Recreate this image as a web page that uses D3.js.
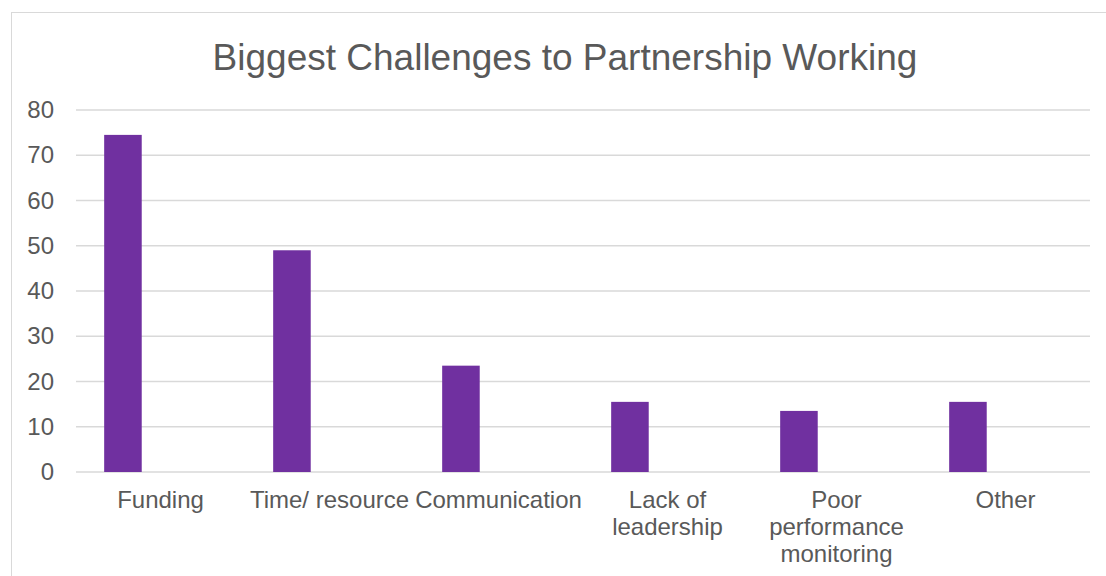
<!DOCTYPE html>
<html>
<head>
<meta charset="utf-8">
<script src="https://cdn.jsdelivr.net/npm/d3@7"></script>
<style>
  body { margin: 0; background: #fff; }
  svg { display: block; font-family: "Liberation Sans", Arial, sans-serif; }
</style>
</head>
<body>
<svg></svg>
<script>
var width = 1106, height = 576;

// chart data
var categories = ['Funding', 'Time/ resource', 'Communication', 'Lack of leadership', 'Poor performance monitoring', 'Other'];
var labelLines = [['Funding'], ['Time/ resource'], ['Communication'], ['Lack of', 'leadership'], ['Poor', 'performance', 'monitoring'], ['Other']];
var values = [74.5, 49, 23.5, 15.5, 13.5, 15.5];
var yTicks = [0, 10, 20, 30, 40, 50, 60, 70, 80];
var title = 'Biggest Challenges to Partnership Working';

var margin = {top: 110, right: 16, bottom: 104, left: 76};
var plotW = width - margin.left - margin.right;
var plotH = height - margin.top - margin.bottom;

var svg = d3.select('svg').attr('width', width).attr('height', height);

// chart frame (runs off the right edge like the original)
svg.append('rect')
  .attr('x', 11.5).attr('y', 12.5)
  .attr('width', 1120).attr('height', 600)
  .attr('fill', 'none').attr('stroke', '#d9d9d9');

svg.append('text')
  .attr('x', 565).attr('y', 70)
  .attr('text-anchor', 'middle')
  .attr('font-size', 37)
  .attr('fill', '#595959')
  .text(title);

var g = svg.append('g').attr('transform', 'translate(' + margin.left + ',' + margin.top + ')');

var x = d3.scaleBand().domain(categories).range([0, plotW]).padding(0);
// excel-style cluster slots, only the first one holds a bar
var slot = d3.scaleBand().domain([0, 1, 2]).range([0, x.bandwidth()]).paddingInner(0).paddingOuter(0.75);
var y = d3.scaleLinear().domain([0, 80]).range([plotH, 0]);

g.selectAll('line.grid')
  .data(yTicks)
  .enter().append('line')
  .attr('class', 'grid')
  .attr('x1', 0).attr('x2', plotW)
  .attr('y1', function(d) { return y(d); })
  .attr('y2', function(d) { return y(d); })
  .attr('stroke', '#d9d9d9')
  .attr('stroke-width', 1.3);

var yAxis = g.append('g')
  .call(d3.axisLeft(y).tickValues(yTicks).tickSize(0).tickPadding(22));
yAxis.select('.domain').remove();
yAxis.selectAll('text')
  .attr('font-size', 24)
  .attr('fill', '#595959')
  .attr('font-family', '"Liberation Sans", Arial, sans-serif');

g.selectAll('rect.bar')
  .data(values)
  .enter().append('rect')
  .attr('class', 'bar')
  .attr('x', function(d, i) { return x(categories[i]) + slot(0); })
  .attr('width', slot.bandwidth())
  .attr('y', function(d) { return y(d); })
  .attr('height', function(d) { return plotH - y(d); })
  .attr('fill', '#7030a0');

var labels = g.selectAll('text.cat')
  .data(labelLines)
  .enter().append('text')
  .attr('class', 'cat')
  .attr('text-anchor', 'middle')
  .attr('font-size', 24)
  .attr('fill', '#595959');

labels.each(function(lines, i) {
  var t = d3.select(this);
  lines.forEach(function(line, j) {
    t.append('tspan')
      .attr('x', x(categories[i]) + x.bandwidth() / 2)
      .attr('y', plotH + 36 + j * 27)
      .text(line);
  });
});
</script>
</body>
</html>
